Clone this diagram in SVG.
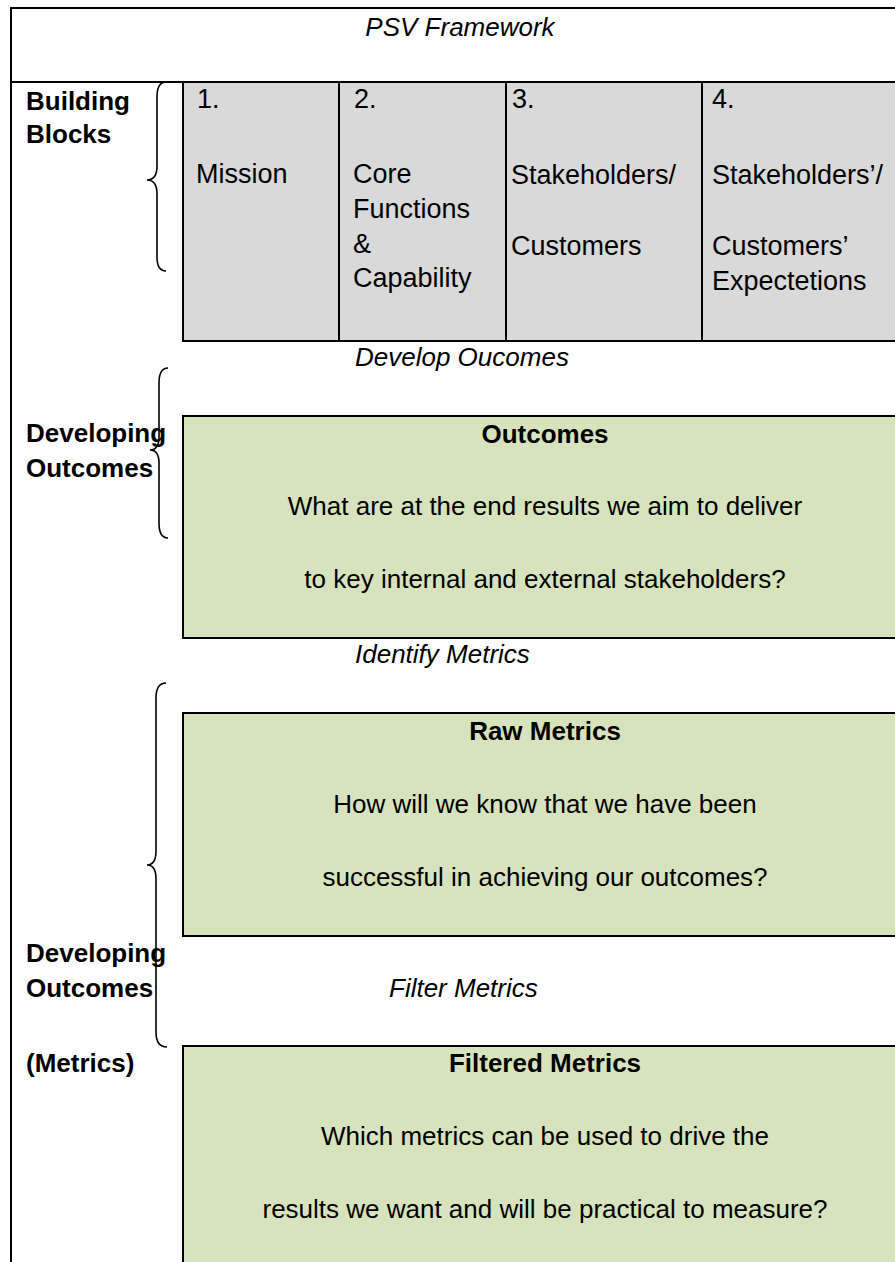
<svg xmlns="http://www.w3.org/2000/svg" width="895" height="1262" viewBox="0 0 895 1262">
  <style>
    text { font-family: "Liberation Sans", Arial, sans-serif; font-size: 26px; fill: #000; }
    .b { font-weight: bold; }
    .i { font-style: italic; }
    .c { text-anchor: middle; }
    .cell text { font-size: 27px; }
    .frame { fill: none; stroke: #000; stroke-width: 2; }
    .gray { fill: #d9d9d9; stroke: #000; stroke-width: 2; }
    .green { fill: #d7e3bc; stroke: #000; stroke-width: 2; }
    .brace { fill: none; stroke: #000; stroke-width: 1.6; }
  </style>

  <!-- outer table frame -->
  <g id="frame">
    <line class="frame" x1="11" y1="8" x2="900" y2="8"/>
    <line class="frame" x1="11" y1="82" x2="900" y2="82"/>
    <line class="frame" x1="11" y1="7" x2="11" y2="1270"/>
    <text class="i c" x="460" y="36">PSV Framework</text>
  </g>

  <!-- side labels -->
  <g id="label-building-blocks">
    <text class="b" x="26" y="110">Building</text>
    <text class="b" x="26" y="143">Blocks</text>
  </g>
  <g id="label-developing-outcomes">
    <text class="b" x="26" y="442">Developing</text>
    <text class="b" x="26" y="477">Outcomes</text>
  </g>
  <g id="label-developing-metrics">
    <text class="b" x="26" y="962">Developing</text>
    <text class="b" x="26" y="997">Outcomes</text>
    <text class="b" x="26" y="1072">(Metrics)</text>
  </g>

  <!-- building blocks row -->
  <g id="building-blocks" class="cell">
    <rect class="gray" x="183" y="82" width="730" height="259"/>
    <line class="frame" x1="339" y1="82" x2="339" y2="341"/>
    <line class="frame" x1="506" y1="82" x2="506" y2="341"/>
    <line class="frame" x1="702" y1="82" x2="702" y2="341"/>
    <text x="197" y="108">1.</text>
    <text x="196" y="183">Mission</text>
    <text x="354" y="108">2.</text>
    <text x="353" y="183">Core</text>
    <text x="353" y="218">Functions</text>
    <text x="353" y="253">&amp;</text>
    <text x="353" y="287">Capability</text>
    <text x="512" y="108">3.</text>
    <text x="511" y="184">Stakeholders/</text>
    <text x="511" y="255">Customers</text>
    <text x="712" y="108">4.</text>
    <text x="712" y="184">Stakeholders’/</text>
    <text x="712" y="255">Customers’</text>
    <text x="712" y="290">Expectetions</text>
  </g>

  <!-- step labels -->
  <g id="step-develop"><text class="i" x="355" y="366">Develop Oucomes</text></g>
  <g id="step-identify"><text class="i" x="355" y="663">Identify Metrics</text></g>
  <g id="step-filter"><text class="i" x="389" y="997">Filter Metrics</text></g>

  <!-- outcome / metric boxes -->
  <g id="outcomes">
    <rect class="green" x="183" y="416" width="730" height="222"/>
    <text class="b c" x="545" y="443">Outcomes</text>
    <text class="c" x="545" y="515">What are at the end results we aim to deliver</text>
    <text class="c" x="545" y="588">to key internal and external stakeholders?</text>
  </g>
  <g id="raw-metrics">
    <rect class="green" x="183" y="713" width="730" height="223"/>
    <text class="b c" x="545" y="740">Raw Metrics</text>
    <text class="c" x="545" y="813">How will we know that we have been</text>
    <text class="c" x="545" y="886">successful in achieving our outcomes?</text>
  </g>
  <g id="filtered-metrics">
    <rect class="green" x="183" y="1046" width="730" height="230"/>
    <text class="b c" x="545" y="1072">Filtered Metrics</text>
    <text class="c" x="545" y="1145">Which metrics can be used to drive the</text>
    <text class="c" x="545" y="1218">results we want and will be practical to measure?</text>
  </g>

  <!-- curly braces grouping the rows -->
  <g id="connectors">
    <path class="brace" d="M166,82 Q157,82 157,97 L157,166 Q157,180 147,180 Q157,180 157,194 L157,257 Q157,271 166,271"/>
    <path class="brace" d="M168,368 Q159,368 159,383 L159,437 Q159,450 150,450 Q159,450 159,463 L159,523 Q159,538 168,538"/>
    <path class="brace" d="M166,683 Q156,683 156,698 L156,851 Q156,865 147,865 Q156,865 156,879 L156,1032 Q156,1047 167,1047"/>
  </g>
</svg>
